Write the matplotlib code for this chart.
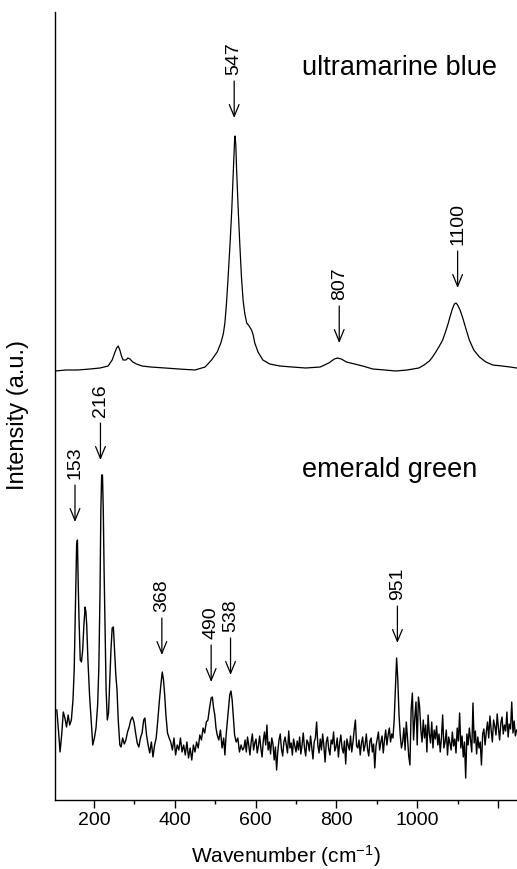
import numpy as np
import matplotlib
matplotlib.use('Agg')
import matplotlib.pyplot as plt

plt.rcParams['font.family'] = ['Liberation Sans', 'DejaVu Sans']
plt.rcParams['mathtext.fontset'] = 'custom'
plt.rcParams['mathtext.rm'] = 'Liberation Sans'
plt.rcParams['mathtext.it'] = 'Liberation Sans:italic'
plt.rcParams['mathtext.default'] = 'regular'

# ---------------- data (intensity in arbitrary units) ----------------
ub_wn = [104, 130, 160, 190, 215, 235, 245, 252, 256, 260, 264, 268, 272, 279, 284,
         289, 296, 305, 319, 340, 376, 410, 450, 475, 491, 505, 514, 520, 524, 528,
         532, 537, 541, 545, 548, 549, 551, 553, 557, 561, 565, 569, 573, 578, 584,
         590, 594, 598, 606, 618, 635, 660, 690, 724, 760, 781, 795, 803, 812, 825,
         845, 865, 890, 920, 947, 975, 1004, 1017, 1030, 1038, 1046, 1055, 1063, 1070,
         1077, 1081, 1087, 1092, 1096, 1100, 1106, 1112, 1120, 1129, 1140, 1154, 1170,
         1187, 1210, 1230, 1246]
ub_int = [429, 430, 430, 431, 432, 434, 440, 448, 452, 454, 450, 444, 440, 440, 442,
          441, 438, 436, 434, 433, 432, 431, 430, 433, 440, 448, 457, 466, 477, 497,
          523, 558, 590, 630, 660, 664, 655, 630, 590, 555, 523, 500, 487, 477, 474,
          470, 465, 457, 448, 440, 436, 434, 433, 432, 433, 437, 441, 442, 441, 438,
          436, 434, 431, 430, 429, 430, 432, 435, 439, 443, 448, 454, 460, 468,
          477, 483, 491, 496, 497, 495, 490, 483, 472, 460, 450, 443, 438,
          435, 434, 433, 432]

eg_wn = [108, 112, 116, 120, 124, 128, 132, 136, 140, 144, 148, 151, 154, 157, 159,
         161, 163, 166, 169, 172, 175, 178, 180, 182, 185, 189, 193, 197, 201, 205,
         209, 212, 215, 217, 219, 221, 223, 225, 227, 230, 233, 236, 239, 242, 245,
         248, 251, 254, 257, 260, 264, 267, 271, 275, 279, 283, 287, 291, 295, 299,
         303, 307, 311, 315, 319, 323, 326, 330, 334, 338, 342, 346, 350, 354, 358,
         362, 366, 369, 372, 375, 378, 382, 386, 390, 394, 398, 402, 406, 410, 414,
         418, 422, 426, 430, 434, 438, 442, 446, 450, 454, 458, 462, 466, 470, 474,
         478, 482, 486, 490, 493, 496, 499, 502, 505, 509, 513, 517, 521, 524, 527,
         530, 533, 536, 539, 542, 545, 548, 552, 556, 560, 564, 568]
eg_int = [90, 70, 48, 65, 88, 82, 73, 85, 75, 80, 100, 130, 190, 255, 260,
          215, 180, 140, 138, 150, 175, 193, 188, 175, 140, 105, 80, 55, 62, 72,
          95, 132, 210, 290, 325, 325, 290, 230, 180, 110, 80, 87, 120, 150, 172,
          173, 150, 125, 110, 80, 55, 53, 62, 56, 60, 68, 73, 80, 83, 78,
          67, 57, 53, 62, 67, 80, 82, 65, 55, 47, 58, 43, 55, 62, 80,
          100, 117, 128, 120, 105, 85, 67, 62, 58, 50, 62, 45, 55, 50, 62,
          48, 55, 45, 58, 42, 52, 40, 55, 48, 58, 52, 65, 60, 72, 67,
          78, 80, 92, 102, 103, 92, 85, 72, 65, 60, 70, 52, 62, 45, 65,
          78, 92, 105, 109, 100, 82, 65, 58, 62, 48, 55, 50]

# noisy part of the emerald green spectrum, sampled every 3 cm-1 from 571 cm-1
eg_noise_start = 571
eg_noise_step = 3
eg_noise = [52, 60, 48, 63, 55, 45, 58, 66, 50, 57, 61, 47, 54, 64, 52, 43, 59, 68, 55, 75,
            50, 58, 46, 62, 56, 40, 53, 30, 49, 60, 66, 51, 44, 58, 63, 55, 47, 69, 52, 57,
            45, 61, 54, 48,
            59, 50, 63, 46, 55, 67, 52, 44, 60, 57, 49, 64, 53, 41, 58, 62, 78, 55, 47, 61,
            50, 66, 54, 38, 58, 63, 51, 45, 60, 56, 68, 49, 53, 62, 43, 57, 65, 52, 47, 59,
            36, 61, 55, 50, 64, 48, 58, 70, 80, 54,
            52, 60, 45, 57, 63, 49, 55, 66, 51, 44, 59, 62, 48, 56, 32, 54, 61, 68, 50, 58,
            64, 47, 60, 70, 55, 65, 72, 58, 66,
            62, 80, 110, 142, 120, 85, 65, 52,
            58, 72, 50, 78, 62, 44, 35, 90, 107, 60, 82, 98, 55, 103, 93, 70, 58, 80, 62, 75,
            48, 85, 66, 57, 78, 52, 70, 61, 74,
            55, 66, 48, 62, 85, 52, 58, 70, 45, 63, 57, 50, 68, 54, 61, 47, 72, 59, 87, 52,
            64, 43, 58, 22, 66, 55, 72, 60, 48, 97, 57, 69, 46, 63, 52, 58, 35, 66, 71, 55,
            68, 78, 62, 84, 70, 58, 80, 74, 65, 86, 72, 60, 77, 83, 66, 75, 69, 88, 63, 76,
            71, 98, 67, 79, 64, 70]

ub_peaks = [547, 807, 1100]
ub_arrow_tip = [682, 457, 512]
eg_peaks = [153, 216, 368, 490, 538, 951]
eg_arrow_tip = [278, 340, 145, 118, 125, 157]

x_ticks = [200, 400, 600, 800, 1000, 1200]
x_tick_labels = ['200', '400', '600', '800', '1000', '']
x_minor = [300, 500, 700, 900, 1100]

# ---------------- figure ----------------
W, H = 517, 869
fig = plt.figure(figsize=(W / 100, H / 100), dpi=100)
ax = fig.add_axes([55 / W, 69 / H, 462 / W, 788 / H])

eg_x = np.concatenate([np.array(eg_wn, float),
                       eg_noise_start + eg_noise_step * np.arange(len(eg_noise))])
eg_y = np.concatenate([np.array(eg_int, float), np.array(eg_noise, float)])

ax.plot(ub_wn, ub_int, color='black', lw=0.9)
ax.plot(eg_x, eg_y, color='black', lw=1.0)

ax.set_xlim(103.5, 1247)
ax.set_ylim(0, 788)

for sp in ['top', 'right']:
    ax.spines[sp].set_visible(False)
for sp in ['left', 'bottom']:
    ax.spines[sp].set_linewidth(1.0)

ax.set_yticks([])
ax.set_xticks(x_ticks)
ax.set_xticklabels(x_tick_labels)
ax.set_xticks(x_minor, minor=True)
ax.tick_params(axis='x', which='major', direction='out', length=5.5, width=1.0,
               labelsize=14, pad=3)
ax.tick_params(axis='x', which='minor', direction='out', length=3, width=1.0)

arrow_len = 26.6   # points
text_gap = 4.3

def mark(xs, tips):
    for xv, tip in zip(xs, tips):
        ax.annotate('', xy=(xv, tip), xytext=(0, arrow_len), textcoords='offset points',
                    arrowprops=dict(arrowstyle='->,head_length=0.85,head_width=0.35',
                                    lw=0.9, color='black', shrinkA=0, shrinkB=0))
        ax.annotate(str(xv), xy=(xv, tip), xytext=(0, arrow_len + text_gap),
                    textcoords='offset points', rotation=90, ha='center', va='bottom',
                    fontsize=14)

mark(ub_peaks, ub_arrow_tip)
mark(eg_peaks, eg_arrow_tip)

ax.text(0.535, 0.920, 'ultramarine blue', transform=ax.transAxes, ha='left',
        va='baseline', fontsize=19.5)
ax.text(0.535, 0.410, 'emerald green', transform=ax.transAxes, ha='left',
        va='baseline', fontsize=19.5)

fig.text(18 / W, 1 - 415 / H, 'Intensity (a.u.)', rotation=90, ha='center',
         va='center', fontsize=17)
fig.text(286 / W, 6 / H, r'Wavenumber (cm$^{-1}$)', ha='center', va='baseline',
         fontsize=15)

fig.savefig('out.png', dpi=100)
